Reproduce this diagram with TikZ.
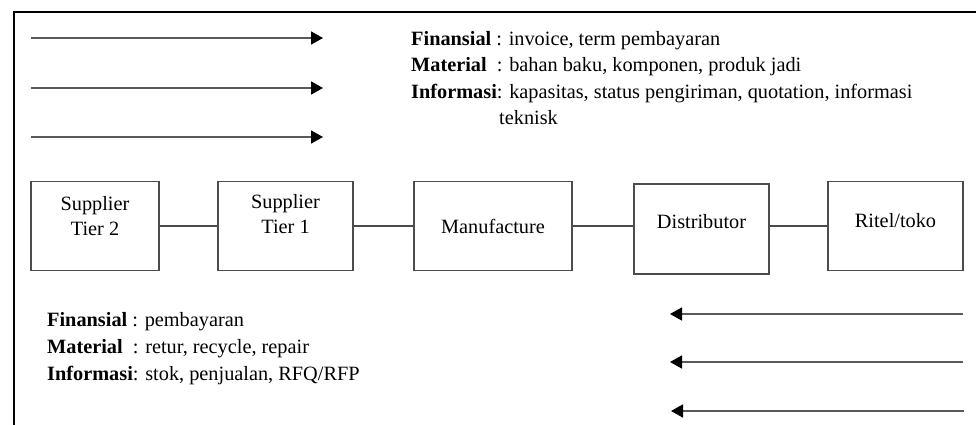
\documentclass[tikz,border=0pt]{standalone}
\usepackage{fontspec}
\setmainfont{Liberation Serif}
\usetikzlibrary{arrows.meta}

\begin{document}
\begin{tikzpicture}[x=1pt,y=-1pt,>={Triangle[length=12pt,width=13pt,color=black]},
    blok/.style={draw=black!70,line width=1.4pt,inner sep=0pt,minimum height=89pt},
    blokteks/.style={align=center,inner sep=0pt,font=\fontsize{20.3}{25}\selectfont},
    alur/.style={->,draw=black!65,line width=1.8pt},
    garis/.style={draw=black!70,line width=1.4pt},
    ket/.style={align=left,anchor=north west,inner sep=0pt}]
            \useasboundingbox (0,0) rectangle (976,425);
            \draw[line width=2.4pt] (976,12) -- (14,12) -- (14,425);
            
            % arus ke hilir
            \coordinate (ka1) at (31,38);  \coordinate (kb1) at (323,38);
            \coordinate (ka2) at (31,88);  \coordinate (kb2) at (323,88);
            \coordinate (ka3) at (31,137); \coordinate (kb3) at (323,137);
            \draw[alur] (ka1) -- (kb1);
            \draw[alur] (ka2) -- (kb2);
            \draw[alur] (ka3) -- (kb3);
            
            \node[ket,font=\fontsize{20.3}{26.5}\selectfont] (hilir) at (411,31) {\textbf{Finansial} : invoice, term pembayaran\\
                \textbf{Material}\ \ : bahan baku, komponen, produk jadi\\
                \textbf{Informasi}: kapasitas, status pengiriman, quotation, informasi\\
                \hspace*{88pt}teknisk};
            
            % rantai pasok
            \node[blok,minimum width=128pt] (st2) at (95,226) {};
            \node[blok,minimum width=135pt] (st1) at (285.5,226) {};
            \node[blok,minimum width=158pt] (manu) at (493,226) {};
            \node[blok,minimum width=135pt,minimum height=90pt] (dist) at (701.5,229) {};
            \node[blok,minimum width=135pt] (ritel) at (895.5,226) {};
            
            \node[blokteks] (st2t) at (95,216) {Supplier\\Tier 2};
            \node[blokteks] (st1t) at (285.5,214) {Supplier\\Tier 1};
            \node[blokteks] (manut) at (493,226) {Manufacture};
            \node[blokteks] (distt) at (701.5,222) {Distributor};
            \node[blokteks] (ritelt) at (895.5,221) {Ritel/toko};
            
            \draw[garis] (st2.east) -- (st1.west);
            \draw[garis] (st1.east) -- (manu.west);
            \draw[garis] (manu.east) -- (manu.east -| dist.west);
            \draw[garis] (ritel.west -| dist.east) -- (ritel.west);
            
            % arus ke hulu
            \node[ket,font=\fontsize{20.3}{27}\selectfont] (hulu) at (47,312) {\textbf{Finansial} : pembayaran\\
                \textbf{Material}\ \ : retur, recycle, repair\\
                \textbf{Informasi}: stok, penjualan, RFQ/RFP};
            
            \coordinate (ba1) at (963,314); \coordinate (bb1) at (670,314);
            \coordinate (ba2) at (963,362); \coordinate (bb2) at (670,362);
            \coordinate (ba3) at (964,411); \coordinate (bb3) at (671,411);
            \draw[alur] (ba1) -- (bb1);
            \draw[alur] (ba2) -- (bb2);
            \draw[alur] (ba3) -- (bb3);
        \end{tikzpicture}
\end{document}
